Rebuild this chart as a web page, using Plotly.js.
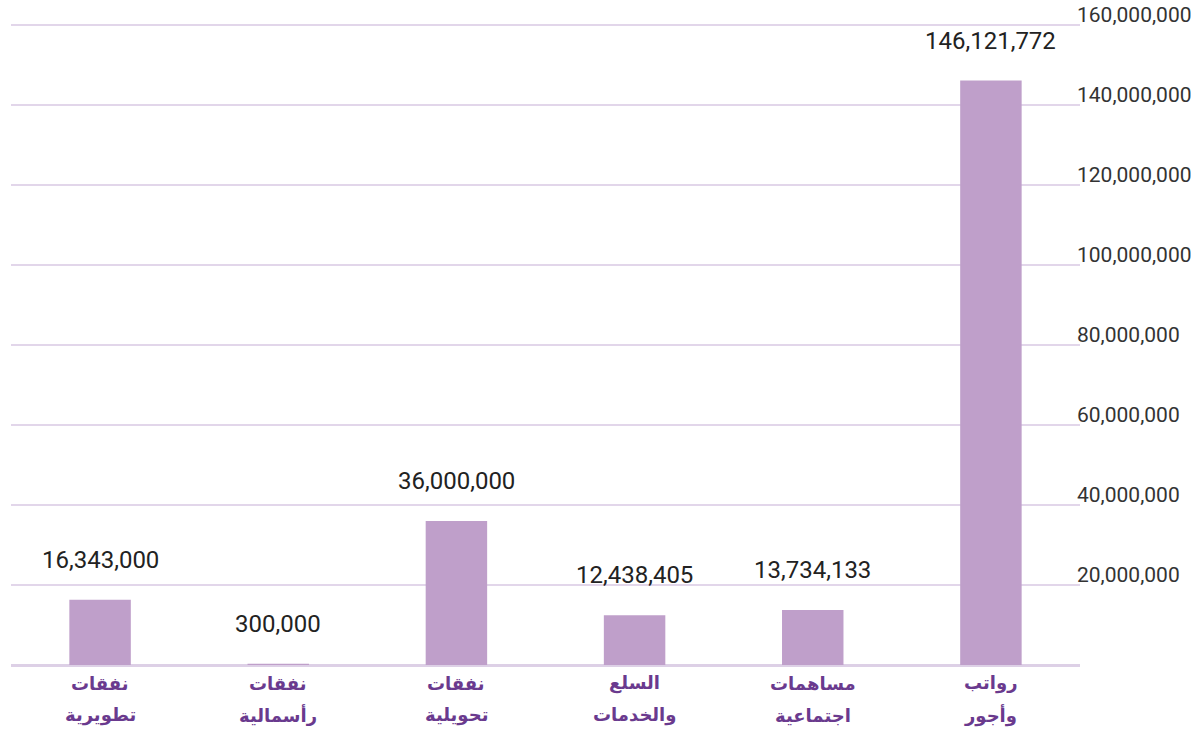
<!DOCTYPE html>
<html>
<head>
<meta charset="utf-8">
<script src="https://cdn.plot.ly/plotly-3.0.1.min.js"></script>
<style>html,body{margin:0;padding:0;background:#fff;}#chart{width:1196px;height:732px;}</style>
</head>
<body>
<div id="chart"></div>
<script>
const categories = ["نفقات تطويرية", "نفقات رأسمالية", "نفقات تحويلية", "السلع والخدمات", "مساهمات اجتماعية", "رواتب وأجور"];
const labelLine1 = ["نفقات", "نفقات", "نفقات", "السلع", "مساهمات", "رواتب"];
const labelLine2 = ["تطويرية", "رأسمالية", "تحويلية", "والخدمات", "اجتماعية", "وأجور"];
const values = [16343000, 300000, 36000000, 12438405, 13734133, 146121772];
const tickValues = [20000000, 40000000, 60000000, 80000000, 100000000, 120000000, 140000000, 160000000];
const tickLabels = ["20,000,000", "40,000,000", "60,000,000", "80,000,000", "100,000,000", "120,000,000", "140,000,000", "160,000,000"];

const fmt = v => v.toLocaleString('en-US');

const annotations = [];
categories.forEach((c, i) => {
  annotations.push({x: c, y: values[i], xref: 'x', yref: 'y', text: fmt(values[i]), showarrow: false,
    yanchor: 'middle', yshift: 40, font: {family: 'Roboto, sans-serif', size: 24, color: '#222'}});
  annotations.push({x: c, y: 0, xref: 'x', yref: 'paper', text: '<b>' + labelLine1[i] + '</b>', showarrow: false,
    yanchor: 'middle', yshift: -18, font: {family: 'DejaVu Sans, sans-serif', size: 18, color: '#6a3a8e'}});
  annotations.push({x: c, y: 0, xref: 'x', yref: 'paper', text: '<b>' + labelLine2[i] + '</b>', showarrow: false,
    yanchor: 'middle', yshift: -50, font: {family: 'DejaVu Sans, sans-serif', size: 18, color: '#6a3a8e'}});
});

const trace = {
  type: 'bar', x: categories, y: values,
  marker: {color: '#bf9fca'}, width: 0.345, hoverinfo: 'none'
};

const layout = {
  width: 1196, height: 732,
  margin: {l: 11, r: 116, t: 21, b: 67},
  paper_bgcolor: '#fff', plot_bgcolor: '#fff',
  showlegend: false,
  xaxis: {type: 'category', range: [-0.5, 5.5], showticklabels: false, showgrid: false, zeroline: false, showline: false, fixedrange: true},
  yaxis: {side: 'right', range: [0, 161000000], tickvals: tickValues, ticktext: tickLabels,
    showgrid: true, gridcolor: '#e2d6ea', gridwidth: 2, zeroline: true, zerolinecolor: '#ddd0e6', zerolinewidth: 3,
    showline: false, ticks: '', ticklabelshift: -10, ticklabelstandoff: -4,
    tickfont: {family: 'Roboto, sans-serif', size: 21, color: '#333'}},
  annotations: annotations
};

Plotly.newPlot('chart', [trace], layout, {displayModeBar: false, staticPlot: true});
</script>
</body>
</html>
